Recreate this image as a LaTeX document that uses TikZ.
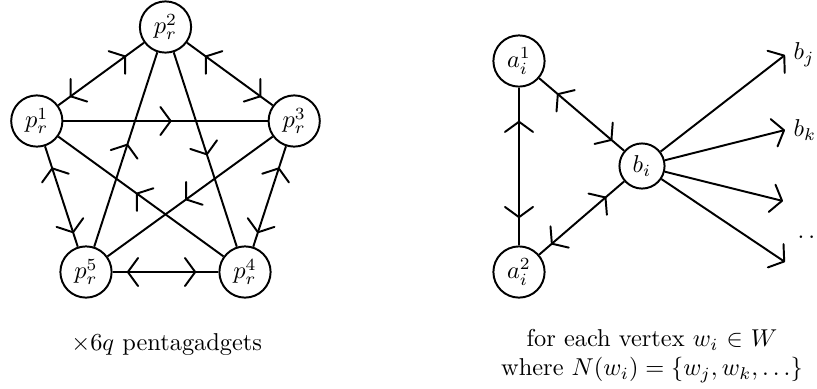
\documentclass[tikz,border=0pt]{standalone}
\usetikzlibrary{arrows.meta,decorations.markings}
\tikzset{
  vtx/.style={circle, draw, thick, minimum size=21pt, inner sep=1pt},
  vtxs/.style={circle, draw, thick, minimum size=18.5pt, inner sep=1pt},
  tipA/.tip={Straight Barb[length=4.2pt,width=11.5pt,line width=0.8pt,round]},
  bidir/.style={thick, postaction={decorate}, decoration={markings,
      mark=at position 0.25 with {\arrow{tipA[reversed]}},
      mark=at position 0.79 with {\arrow{tipA}}}},
  onedir/.style={thick, postaction={decorate}, decoration={markings,
      mark=at position 0.53 with {\arrow{tipA}}}},
  outarr/.style={thick, -{tipA}},
}
\begin{document}
\begin{tikzpicture}[x=0.41pt, y=-0.41pt]
\useasboundingbox (0,0) rectangle (817,388);
% pentagadget
\node[vtx] (p2) at (165.5,27) {$p_r^2$};
\node[vtx] (p1) at (36.8,121) {$p_r^1$};
\node[vtx] (p3) at (294.2,121) {$p_r^3$};
\node[vtx] (p5) at (86,272) {$p_r^5$};
\node[vtx] (p4) at (245,272) {$p_r^4$};
\draw[bidir] (p1) -- (p2);
\draw[bidir] (p3) -- (p2);
\draw[bidir] (p5) -- (p1);
\draw[bidir] (p4) -- (p3);
\draw[bidir] (p5) -- (p4);
\draw[onedir] (p1) -- (p3);
\draw[onedir] (p2) -- (p4);
\draw[onedir] (p5) -- (p2);
\draw[onedir] (p3) -- (p5);
\draw[onedir] (p4) -- (p1);
\node (cap1) at (166.7,345) {$\times 6q$ pentagadgets};
% vertex gadget
\node[vtx] (a1) at (519,61) {$a_i^1$};
\node[vtx] (a2) at (519,272) {$a_i^2$};
\node[vtxs] (bi) at (642,166) {$b_i$};
\draw[bidir] (a2) -- (a1);
\draw[bidir] (bi) -- (a1);
\draw[bidir] (a2) -- (bi);
\coordinate (tj) at (785,55);
\coordinate (tk) at (785,130);
\coordinate (tl) at (783,201);
\coordinate (tm) at (785,262);
\draw[outarr] (bi) -- (tj);
\draw[outarr] (bi) -- (tk);
\draw[outarr] (bi) -- (tl);
\draw[outarr] (bi) -- (tm);
\node[anchor=west] (lj) at (tj) {$b_j$};
\node[anchor=west] (lk) at (tk) {$b_k$};
\node[anchor=west, inner sep=0pt] (ld) at (797,237) {$\ldots$};
\node[align=center] (cap2) at (652,356) {for each vertex $w_i$ $\in$ $W$\\ where $N(w_i) = \{w_j, w_k, \dots\}$};
\end{tikzpicture}
\end{document}
